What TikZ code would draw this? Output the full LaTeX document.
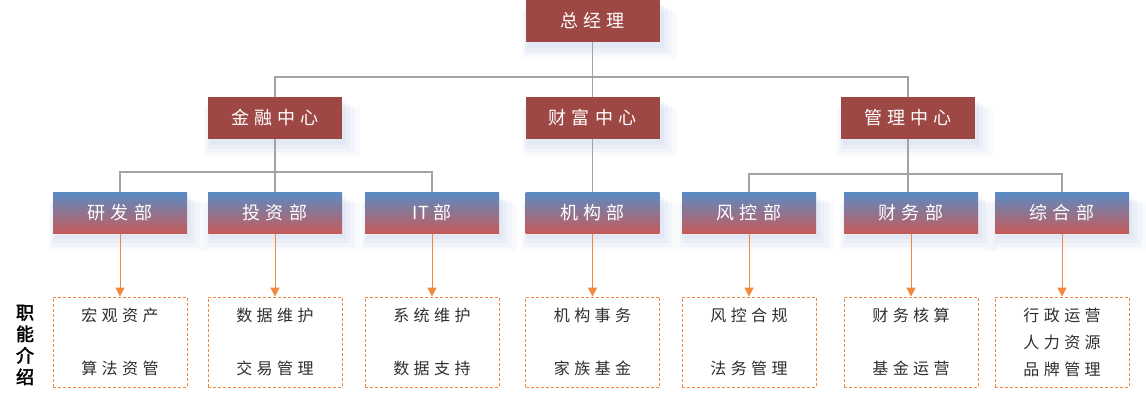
\documentclass[tikz,border=0pt]{standalone}
\usepackage{fontspec}
\usepackage{xcolor}
\usepackage{tikz}
\usetikzlibrary{arrows.meta,positioning,shadows}
\newfontfamily\cjk[LetterSpace=28]{Noto Sans CJK SC}
\newfontfamily\cjkbf[FakeBold=2.5]{Noto Sans CJK SC}
\definecolor{headred}{HTML}{9E4846}
\definecolor{deptblue}{HTML}{5B8BC5}
\definecolor{deptred}{HTML}{C65B57}
\definecolor{linegray}{HTML}{A3A3A3}
\definecolor{duty}{HTML}{F2883E}
\definecolor{glowc}{HTML}{C9D5EA}
\definecolor{textdark}{HTML}{2E2E2E}

\tikzset{
  glow/.style={
    general shadow={fill=glowc, opacity=0.12, shadow xshift=6pt, shadow yshift=-12pt, shadow scale=1.16, rounded corners=10pt},
    general shadow={fill=glowc, opacity=0.15, shadow xshift=5pt, shadow yshift=-10pt, shadow scale=1.11, rounded corners=8pt},
    general shadow={fill=glowc, opacity=0.18, shadow xshift=4pt, shadow yshift=-8pt, shadow scale=1.06, rounded corners=5pt},
    general shadow={fill=glowc, opacity=0.22, shadow xshift=3pt, shadow yshift=-5pt, shadow scale=1.02, rounded corners=3pt}},
  headbox/.style={glow, fill=headred, text=white, minimum width=134pt, minimum height=42pt, inner sep=0pt,
    font=\cjk\fontsize{18}{20}\selectfont},
  deptbox/.style={glow, top color=deptblue, bottom color=deptred, text=white, minimum width=134pt, minimum height=41pt,
    inner sep=0pt, font=\cjk\fontsize{18}{20}\selectfont},
  dutybox/.style={draw=duty, densely dashed, line width=0.8pt, minimum width=134pt, minimum height=90pt, inner sep=0pt,
    align=center, text=textdark, font=\cjk\fontsize{16}{53}\selectfont},
  conn/.style={draw=linegray, line width=1.2pt},
  duty arrow/.style={draw=duty, line width=1pt, -{Triangle[width=9pt,length=9pt]}}
}

\begin{document}
\begin{tikzpicture}[x=1pt, y=-1pt]
  \useasboundingbox (0,0) rectangle (1146,410);

  % top level
  \node[headbox] (gm) at (592.5,21) {总经理};

  % centres
  \node[headbox] (jr) at (275,118) {金融中心};
  \node[headbox] (cf) at (592.5,118) {财富中心};
  \node[headbox] (gl) at (908,118) {管理中心};

  % departments
  \node[deptbox] (yf) at (120,213) {研发部};
  \node[deptbox] (tz) at (275,213) {投资部};
  \node[deptbox] (it) at (432,213) {{\addfontfeature{LetterSpace=0}IT}\hspace{4pt}部};
  \node[deptbox] (jg) at (592.5,213) {机构部};
  \node[deptbox] (fk) at (749,213) {风控部};
  \node[deptbox] (cw) at (911,213) {财务部};
  \node[deptbox] (zh) at (1062,213) {综合部};

  % duties
  \node[dutybox] (yfd) at (120,342) {宏观资产\\算法资管};
  \node[dutybox] (tzd) at (275,342) {数据维护\\交易管理};
  \node[dutybox] (itd) at (432,342) {系统维护\\数据支持};
  \node[dutybox] (jgd) at (592.5,342) {机构事务\\家族基金};
  \node[dutybox] (fkd) at (749,342) {风控合规\\法务管理};
  \node[dutybox] (cwd) at (911,342) {财务核算\\基金运营};
  \node[dutybox, font=\cjk\fontsize{16}{27}\selectfont] (zhd) at (1062,342) {行政运营\\人力资源\\品牌管理};

  \node[font=\cjkbf\fontsize{18}{21.5}\selectfont, align=center, inner sep=0pt] (lbl) at (25,345) {职\\能\\介\\绍};

  % connectors
  \coordinate (bus0) at (592.5,77);
  \coordinate (bus1) at (275,172);
  \coordinate (bus2) at (908,174);
  \draw[conn] (gm.south) -- (cf.north);
  \draw[conn] (bus0) -| (jr.north);
  \draw[conn] (bus0) -| (gl.north);

  \draw[conn] (jr.south) -- (tz.north);
  \draw[conn] (bus1) -| (yf.north);
  \draw[conn] (bus1) -| (it.north);
  \draw[conn] (cf.south) -- (jg.north);
  \draw[conn] (gl.south) -- (bus2);
  \draw[conn] (bus2) -| (fk.north);
  \draw[conn] (bus2) -| (zh.north);
  \draw[conn] (bus2) -- (cw.north -| bus2);

  \foreach \d in {yf,tz,it,jg,fk,cw,zh}
    \draw[duty arrow] (\d.south) -- (\d d.north);
\end{tikzpicture}
\end{document}
